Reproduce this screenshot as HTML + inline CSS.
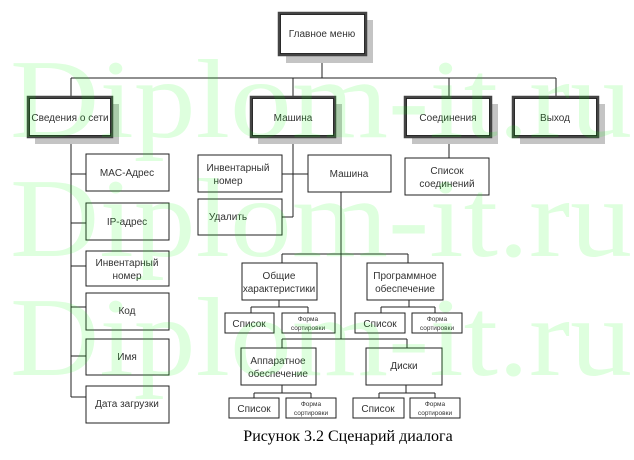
<!DOCTYPE html>
<html><head><meta charset="utf-8"><style>
html,body{margin:0;padding:0;background:#fff;width:634px;height:460px;overflow:hidden}
svg text{font-family:"Liberation Sans",sans-serif;fill:#333}
</style></head><body>
<svg width="634" height="460" viewBox="0 0 634 460" xmlns="http://www.w3.org/2000/svg">
<g stroke="#222" stroke-width="1" fill="none">
<line x1="322" y1="55" x2="322" y2="78"/>
<line x1="71" y1="78" x2="556" y2="78"/>
<line x1="71" y1="78" x2="71" y2="97"/>
<line x1="293" y1="78" x2="293" y2="97"/>
<line x1="449" y1="78" x2="449" y2="97"/>
<line x1="556" y1="78" x2="556" y2="97"/>
<line x1="71" y1="137" x2="71" y2="397"/>
<line x1="71" y1="174" x2="86" y2="174"/>
<line x1="71" y1="223" x2="86" y2="223"/>
<line x1="71" y1="266" x2="86" y2="266"/>
<line x1="71" y1="307" x2="86" y2="307"/>
<line x1="71" y1="356" x2="86" y2="356"/>
<line x1="71" y1="397" x2="86" y2="397"/>
<line x1="293" y1="137" x2="293" y2="217"/>
<line x1="282" y1="217" x2="293" y2="217"/>
<line x1="282" y1="174" x2="308" y2="174"/>
<line x1="341" y1="192" x2="341" y2="339"/>
<line x1="282" y1="254" x2="408" y2="254"/>
<line x1="282" y1="254" x2="282" y2="263"/>
<line x1="408" y1="254" x2="408" y2="263"/>
<line x1="282" y1="339" x2="407" y2="339"/>
<line x1="282" y1="339" x2="282" y2="348"/>
<line x1="407" y1="339" x2="407" y2="348"/>
<line x1="279" y1="300" x2="279" y2="307"/><line x1="251" y1="307" x2="308" y2="307"/><line x1="251" y1="307" x2="251" y2="313"/><line x1="308" y1="307" x2="308" y2="313"/>
<line x1="409" y1="300" x2="409" y2="307"/><line x1="381" y1="307" x2="435" y2="307"/><line x1="381" y1="307" x2="381" y2="313"/><line x1="435" y1="307" x2="435" y2="313"/>
<line x1="282" y1="385" x2="282" y2="393"/><line x1="254" y1="393" x2="311" y2="393"/><line x1="254" y1="393" x2="254" y2="398"/><line x1="311" y1="393" x2="311" y2="398"/>
<line x1="406" y1="385" x2="406" y2="393"/><line x1="379" y1="393" x2="435" y2="393"/><line x1="379" y1="393" x2="379" y2="398"/><line x1="435" y1="393" x2="435" y2="398"/>
<line x1="449" y1="137" x2="449" y2="158"/>
</g>
<g fill="#c4c4c4">
<rect x="286" y="20" width="87" height="43"/>
<rect x="35" y="104" width="84" height="40"/>
<rect x="258" y="104" width="84" height="40"/>
<rect x="412" y="104" width="86" height="40"/>
<rect x="520" y="104" width="85" height="40"/>
</g>
<g fill="#fff" stroke="#444" stroke-width="2.5">
<rect x="279" y="13" width="87" height="42"/>
<rect x="28" y="97" width="84" height="40"/>
<rect x="251" y="97" width="84" height="40"/>
<rect x="405" y="97" width="86" height="40"/>
<rect x="513" y="97" width="85" height="40"/>
</g>
<g fill="none" stroke="#000" stroke-width="0.8">
<rect x="280.5" y="14.5" width="84" height="39"/>
<rect x="29.5" y="98.5" width="81" height="37"/>
<rect x="252.5" y="98.5" width="81" height="37"/>
<rect x="406.5" y="98.5" width="83" height="37"/>
<rect x="514.5" y="98.5" width="82" height="37"/>
</g>
<g fill="#fff" stroke="#222" stroke-width="1">
<rect x="86" y="154" width="83" height="37"/>
<rect x="86" y="203" width="83" height="37"/>
<rect x="86" y="251" width="83" height="35"/>
<rect x="86" y="293" width="83" height="37"/>
<rect x="86" y="339" width="83" height="36"/>
<rect x="86" y="386" width="83" height="37"/>
<rect x="198" y="155" width="84" height="37"/>
<rect x="198" y="199" width="84" height="36"/>
<rect x="308" y="155" width="83" height="37"/>
<rect x="405" y="158" width="84" height="37"/>
<rect x="242" y="263" width="75" height="37"/>
<rect x="367" y="263" width="76" height="37"/>
<rect x="241" y="348" width="75" height="37"/>
<rect x="366" y="348" width="76" height="37"/>
<rect x="225" y="313" width="49" height="20"/>
<rect x="282" y="313" width="53" height="20"/>
<rect x="355" y="313" width="50" height="20"/>
<rect x="412" y="313" width="50" height="20"/>
<rect x="229" y="398" width="50" height="20"/>
<rect x="286" y="398" width="50" height="20"/>
<rect x="353" y="398" width="51" height="20"/>
<rect x="410" y="398" width="50" height="20"/>
</g>
<g font-size="10" text-anchor="middle">
<text x="322" y="37">Главное меню</text>
<text x="70" y="121">Сведения о сети</text>
<text x="293" y="121">Машина</text>
<text x="448" y="121">Соединения</text>
<text x="555" y="121">Выход</text>
<text x="127" y="176">MAC-Адрес</text>
<text x="127" y="225">IP-адрес</text>
<text x="127" y="266">Инвентарный</text><text x="127" y="279">номер</text>
<text x="127" y="314">Код</text>
<text x="127" y="360">Имя</text>
<text x="127" y="407">Дата загрузки</text>
<text x="238" y="171">Инвентарный</text><text x="228" y="184">номер</text>
<text x="228" y="220">Удалить</text>
<text x="349" y="177">Машина</text>
<text x="447" y="174">Список</text><text x="447" y="187">соединений</text>
<text x="279" y="279">Общие</text><text x="279" y="292">характеристики</text>
<text x="405" y="279">Программное</text><text x="405" y="292">обеспечение</text>
<text x="278" y="364">Аппаратное</text><text x="278" y="377">обеспечение</text>
<text x="404" y="369">Диски</text>
<text x="249" y="327">Список</text>
<text x="380" y="327">Список</text>
<text x="254" y="412">Список</text>
<text x="378" y="412">Список</text>
</g>
<g font-size="6.5" text-anchor="middle">
<text x="308" y="321">Форма</text><text x="308" y="330">сортировки</text>
<text x="437" y="321">Форма</text><text x="437" y="330">сортировки</text>
<text x="311" y="406">Форма</text><text x="311" y="415">сортировки</text>
<text x="435" y="406">Форма</text><text x="435" y="415">сортировки</text>
</g>
<text x="348" y="441" text-anchor="middle" font-size="16" style="font-family:'Liberation Serif',serif;fill:#000">Рисунок 3.2 Сценарий диалога</text>
<g font-size="112" fill-opacity="0.13">
<text x="10" y="137" textLength="622" lengthAdjust="spacingAndGlyphs" style="fill:#00ff00;font-family:'Liberation Serif',serif">Diplom-it.ru</text>
<text x="10" y="256" textLength="622" lengthAdjust="spacingAndGlyphs" style="fill:#00ff00;font-family:'Liberation Serif',serif">Diplom-it.ru</text>
<text x="10" y="375" textLength="622" lengthAdjust="spacingAndGlyphs" style="fill:#00ff00;font-family:'Liberation Serif',serif">Diplom-it.ru</text>
</g>
</svg>
</body></html>
